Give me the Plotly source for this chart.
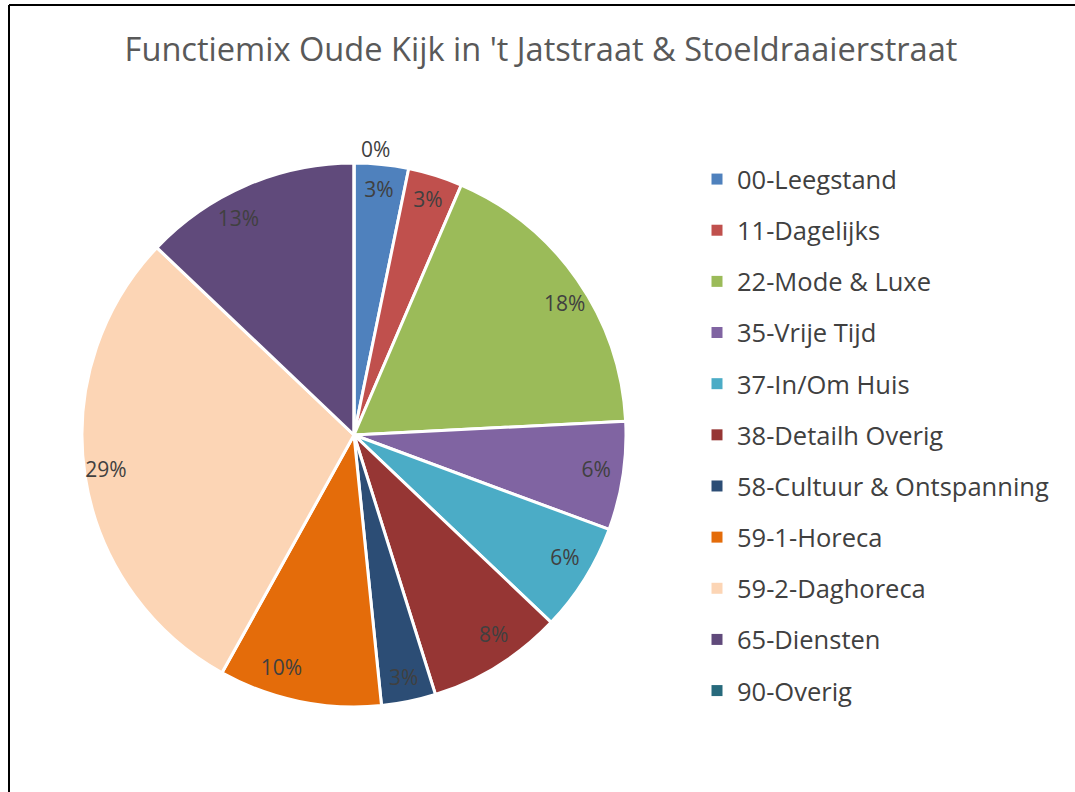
import plotly.graph_objects as go

# ---- data ----
categories = ["00-Leegstand", "11-Dagelijks", "22-Mode & Luxe", "35-Vrije Tijd",
              "37-In/Om Huis", "38-Detailh Overig", "58-Cultuur & Ontspanning",
              "59-1-Horeca", "59-2-Daghoreca", "65-Diensten", "90-Overig"]
counts = [2, 2, 11, 4, 4, 5, 2, 6, 18, 8, 0]
colors = ["#4F81BD", "#C0504D", "#9BBB59", "#8064A2", "#4BACC6", "#963634",
          "#2C4D75", "#E46C0A", "#FCD5B5", "#604A7B", "#276A7C"]
title_text = "Functiemix Oude Kijk in 't Jatstraat & Stoeldraaierstraat"

W, H = 1075, 792
FONT = "Open Sans"
TXT = "#404040"
LBL = 21

cx, cy, R = 354, 435, 272      # pie centre / radius in px
R_lab = 223                    # radius of label-carrier pie

total = sum(counts)
small = [c > 0 and c / total < 0.05 for c in counts]


def dom(r):
    return dict(x=[(cx - r) / W, (cx + r) / W],
                y=[1 - (cy + r) / H, 1 - (cy - r) / H])


main_pos = ["outside" if c == 0 else ("inside" if s else "none")
            for c, s in zip(counts, small)]
carrier_pos = ["none" if (c == 0 or s) else "outside"
               for c, s in zip(counts, small)]

fig = go.Figure()

# main pie
fig.add_trace(go.Pie(
    labels=categories, values=counts, sort=False, direction="clockwise",
    rotation=0, domain=dom(R),
    marker=dict(colors=colors, line=dict(color="white", width=3)),
    texttemplate="%{percent:.0%}",
    textposition=main_pos, insidetextorientation="horizontal",
    textfont=dict(family=FONT, size=LBL, color=TXT),
    showlegend=False, hoverinfo="label+percent",
))

# transparent pie carrying the labels of the larger slices
fig.add_trace(go.Pie(
    labels=categories, values=counts, sort=False, direction="clockwise",
    rotation=0, domain=dom(R_lab),
    marker=dict(colors=["rgba(0,0,0,0)"] * len(counts),
                line=dict(color="rgba(0,0,0,0)", width=0)),
    texttemplate="%{percent:.0%}",
    textposition=carrier_pos,
    textfont=dict(family=FONT, size=LBL, color=TXT),
    showlegend=False, hoverinfo="skip",
))

# legend entries
for lab, col in zip(categories, colors):
    fig.add_trace(go.Scatter(
        x=[None], y=[None], mode="markers", name=lab, legendgroup=lab,
        marker=dict(symbol="square", size=11, color=col),
        showlegend=True, hoverinfo="skip"))

fig.update_layout(
    width=W, height=H,
    margin=dict(l=0, r=0, t=0, b=0),
    paper_bgcolor="white", plot_bgcolor="white",
    uniformtext=dict(minsize=LBL, mode="show"),
    title=dict(text=title_text, x=541 / W, y=1 - 50 / H,
               xanchor="center", yanchor="middle",
               font=dict(family=FONT, size=32.6, color="#595959")),
    xaxis=dict(visible=False), yaxis=dict(visible=False),
    legend=dict(x=697 / W, xanchor="left", y=1 - 156 / H, yanchor="top",
                traceorder="grouped", tracegroupgap=15,
                font=dict(family=FONT, size=25.5, color=TXT),
                bgcolor="rgba(0,0,0,0)"),
    shapes=[
        dict(type="line", xref="paper", yref="paper",
             x0=9 / W, x1=9 / W, y0=0, y1=1 - 5 / H,
             line=dict(color="black", width=2)),
        dict(type="line", xref="paper", yref="paper",
             x0=9 / W, x1=1, y0=1 - 5 / H, y1=1 - 5 / H,
             line=dict(color="black", width=2)),
    ],
)

fig.write_html("out.html", config={"displayModeBar": False},
               post_script="document.body.style.margin='0';")
